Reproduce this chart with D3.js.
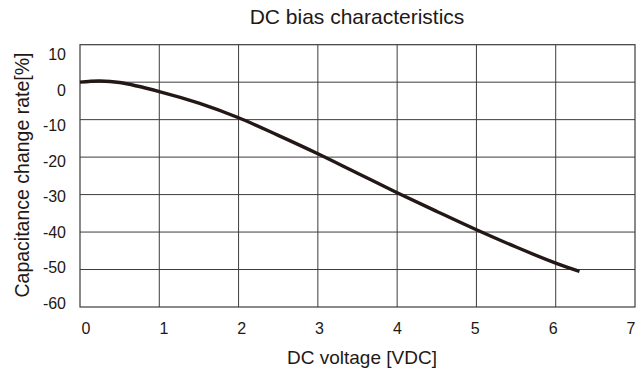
<!DOCTYPE html>
<html>
<head>
<meta charset="utf-8">
<script src="https://cdn.jsdelivr.net/npm/d3@7"></script>
<style>
  body { margin: 0; background: #fff; }
  text { font-family: "Liberation Sans", Arial, sans-serif; fill: #231815; }
</style>
</head>
<body>
<svg width="644" height="369"></svg>
<script>
// values
const voltage = [0, 0.25, 0.5, 1, 1.5, 2, 2.5, 3, 3.5, 4, 4.5, 5, 5.5, 6, 6.3];
const capChange = [0, 0.3, -0.1, -2.5, -5.6, -9.5, -14.2, -19.1, -24.3, -29.5, -34.5, -39.4, -44.0, -48.3, -50.5];
const xTicks = [0, 1, 2, 3, 4, 5, 6, 7];
const yTicks = [10, 0, -10, -20, -30, -40, -50, -60];

const svg = d3.select("svg");
const plotLeft = 80, plotRight = 635, plotTop = 44.7, plotBottom = 307;

const x = d3.scaleLinear().domain([0, 7]).range([plotLeft, plotRight]);
const y = d3.scaleLinear().domain([-60, 10]).range([plotBottom, plotTop]);
// tick labels in the original are spaced slightly differently from the grid
const xLab = d3.scaleLinear().domain([0, 7]).range([86, 631]);
const yLab = d3.scaleLinear().domain([-60, 10]).range([303, 54]);

// grid
svg.append("g").selectAll("line")
    .data(xTicks.slice(1, -1))
    .enter().append("line")
    .attr("x1", d => x(d)).attr("x2", d => x(d))
    .attr("y1", plotTop).attr("y2", plotBottom)
    .style("stroke", "#3c3c3c").style("stroke-width", 1);

svg.append("g").selectAll("line")
    .data(yTicks.slice(1, -1))
    .enter().append("line")
    .attr("x1", plotLeft).attr("x2", plotRight)
    .attr("y1", d => y(d)).attr("y2", d => y(d))
    .style("stroke", "#3c3c3c").style("stroke-width", 1);

svg.append("rect")
    .attr("x", plotLeft).attr("y", plotTop)
    .attr("width", plotRight - plotLeft).attr("height", plotBottom - plotTop)
    .style("fill", "none").style("stroke", "#3c3c3c").style("stroke-width", 1.2);

// curve
const line = d3.line()
    .x((d, i) => x(voltage[i]))
    .y(d => y(d))
    .curve(d3.curveCatmullRom.alpha(0.5));

svg.append("path")
    .datum(capChange)
    .attr("d", line)
    .style("fill", "none")
    .style("stroke", "#231815")
    .style("stroke-width", 3.4);

// tick labels
svg.append("g").selectAll("text")
    .data(xTicks)
    .enter().append("text")
    .attr("x", d => xLab(d)).attr("y", 334)
    .attr("text-anchor", "middle")
    .style("font-size", "16px")
    .text(d => d);

svg.append("g").selectAll("text")
    .data(yTicks)
    .enter().append("text")
    .attr("x", 66).attr("y", d => yLab(d) + 6)
    .attr("text-anchor", "end")
    .style("font-size", "16px")
    .text(d => d);

// titles
svg.append("text")
    .attr("x", 357).attr("y", 24)
    .attr("text-anchor", "middle")
    .style("font-size", "21px")
    .text("DC bias characteristics");

svg.append("text")
    .attr("x", 362).attr("y", 364)
    .attr("text-anchor", "middle")
    .style("font-size", "19px")
    .text("DC voltage [VDC]");

svg.append("text")
    .attr("transform", "translate(29,175) rotate(-90)")
    .attr("text-anchor", "middle")
    .style("font-size", "19.5px")
    .text("Capacitance change rate[%]");
</script>
</body>
</html>
